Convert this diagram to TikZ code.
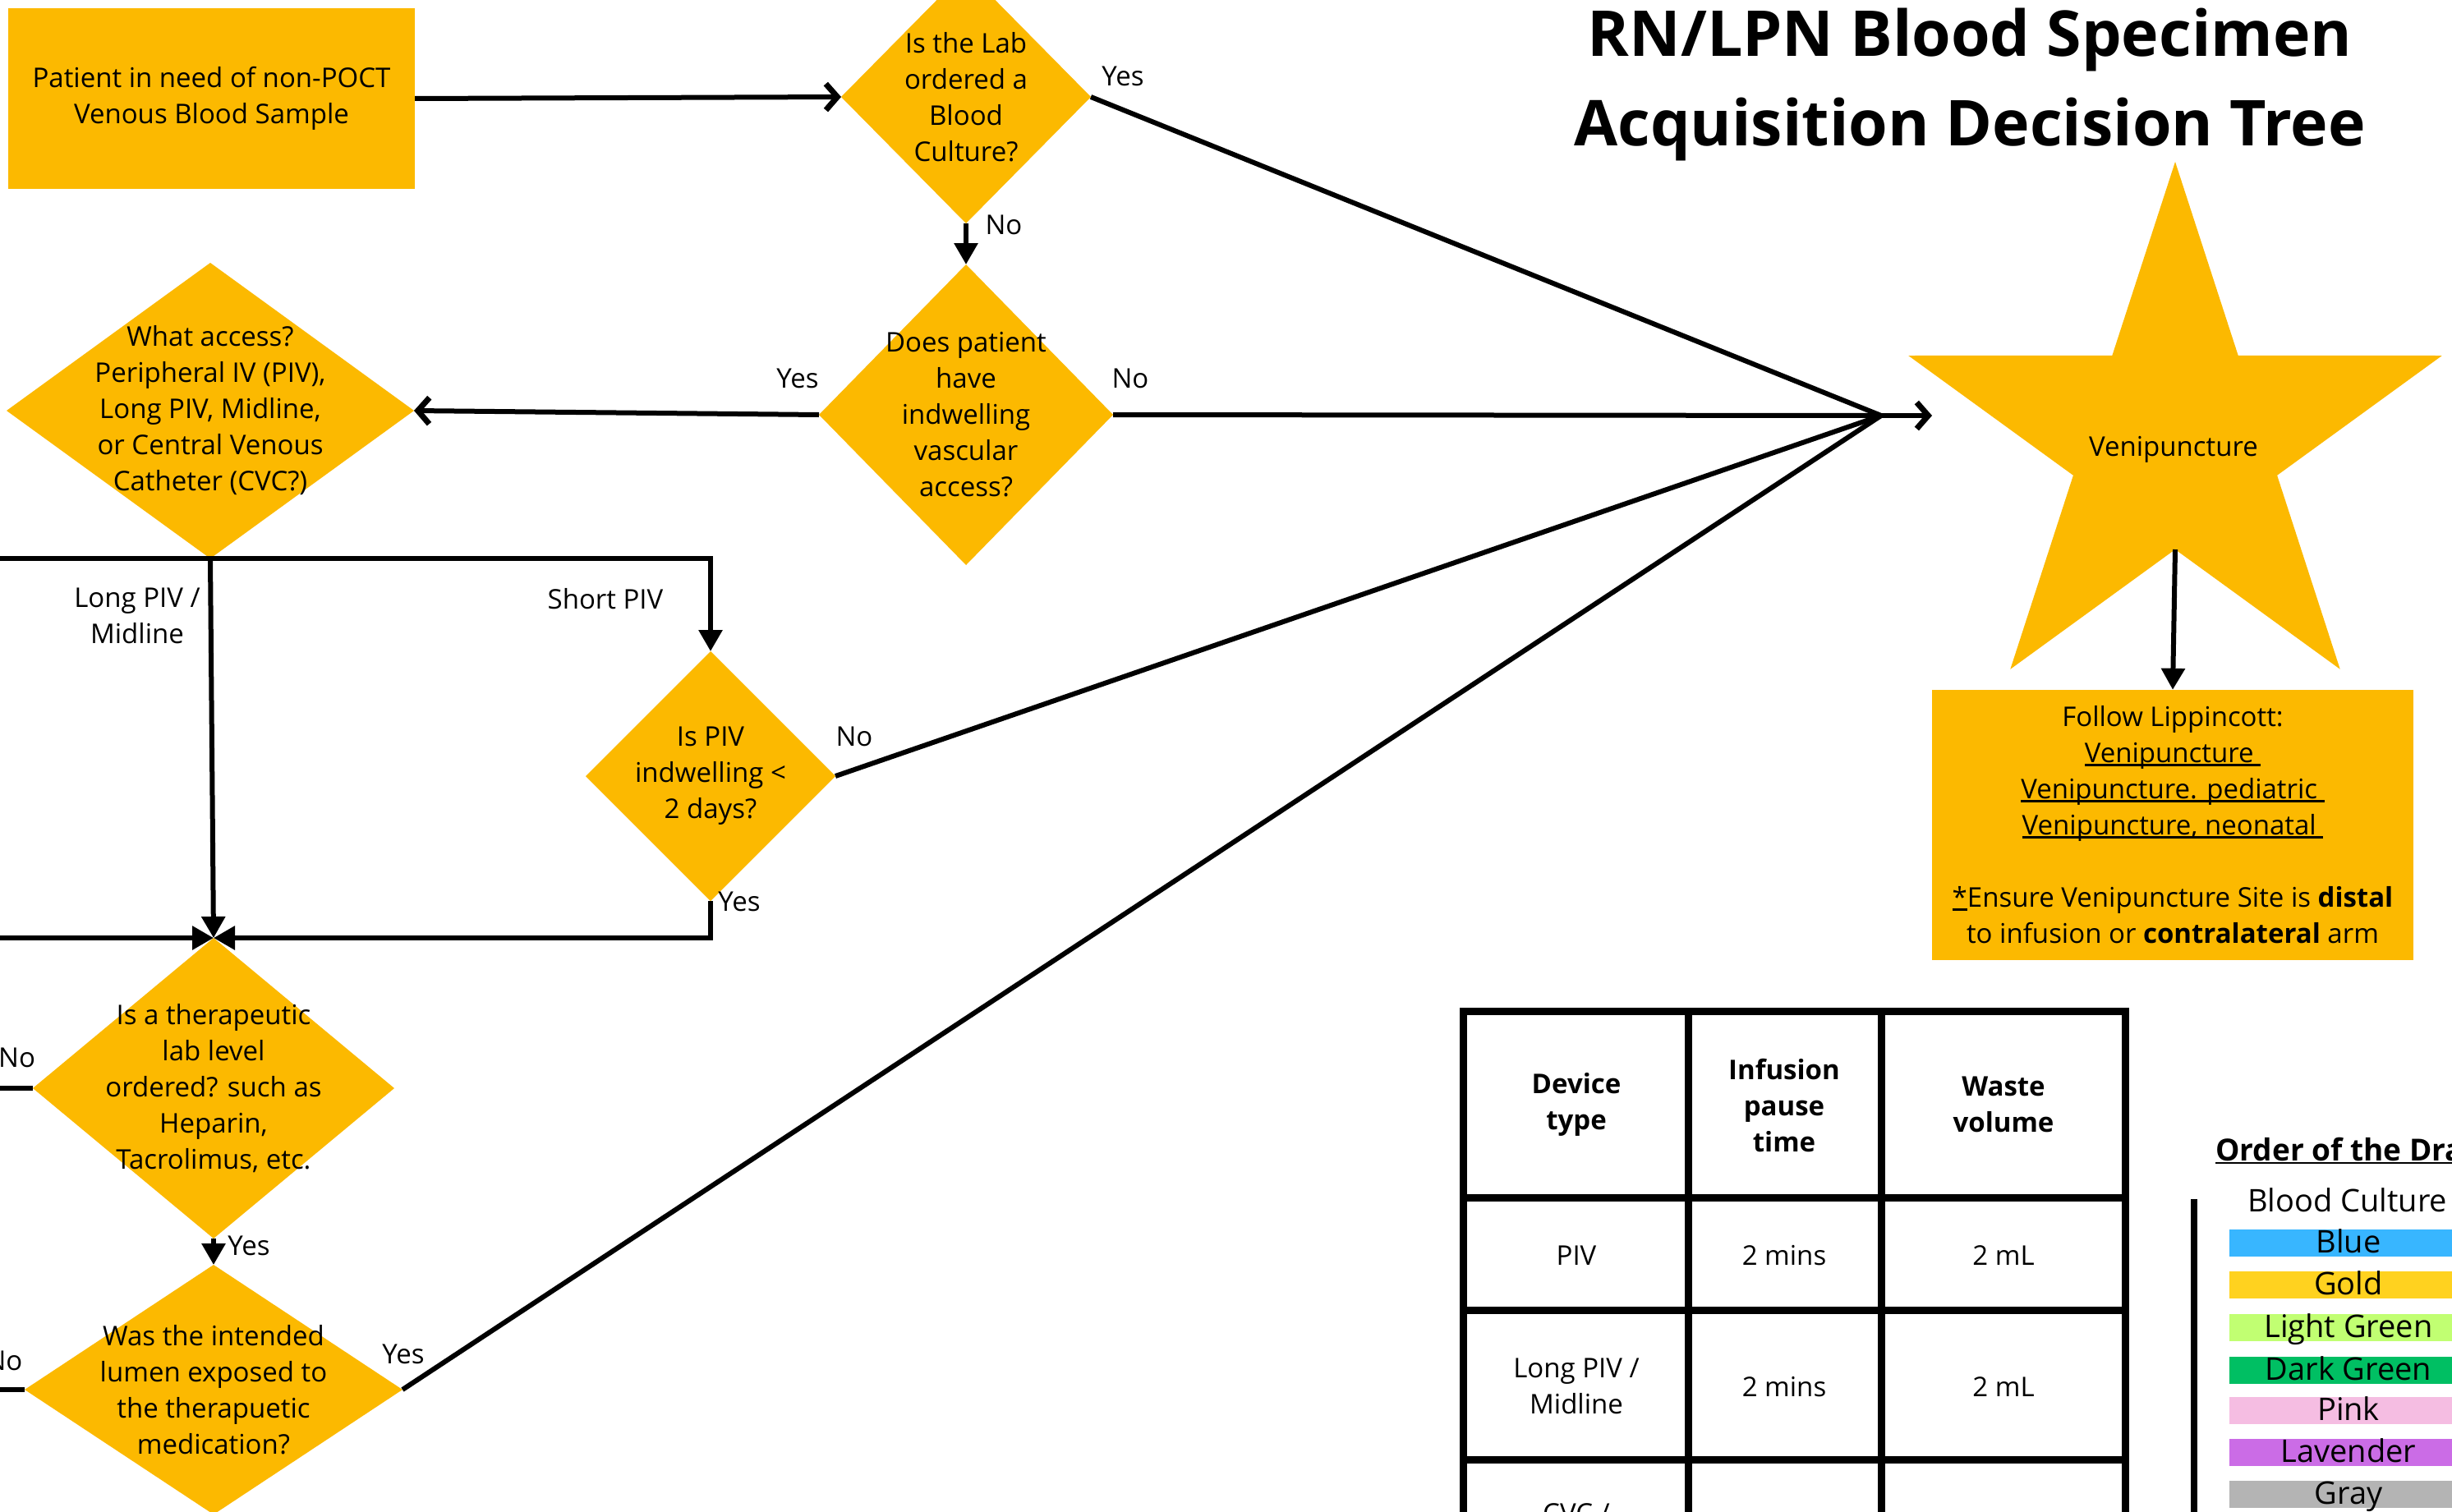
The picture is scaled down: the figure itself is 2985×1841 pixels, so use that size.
\documentclass[tikz,border=0pt]{standalone}
\usepackage{fontspec}
\setmainfont{Open Sans}
\usetikzlibrary{arrows.meta}
\definecolor{gold}{HTML}{FCB900}
\definecolor{cblue}{HTML}{38B6FF}
\definecolor{cgold}{HTML}{FFD21F}
\definecolor{clgreen}{HTML}{C1FF72}
\definecolor{cdgreen}{HTML}{00BF63}
\definecolor{cpink}{HTML}{F5BDE2}
\definecolor{clav}{HTML}{CB6CE6}
\definecolor{cgray}{HTML}{B4B4B4}
\newcommand\myul[1]{\setbox0\hbox{#1}\rlap{\rule[-4pt]{\wd0}{2.5pt}}\box0}
\newcommand\mydiamond[6]{%
  \fill[gold] (#2-#4,#3) -- (#2,#3-#5) -- (#2+#4,#3) -- (#2,#3+#5) -- cycle;
  \coordinate (#1-l) at (#2-#4,#3);
  \coordinate (#1-r) at (#2+#4,#3);
  \coordinate (#1-t) at (#2,#3-#5);
  \coordinate (#1-b) at (#2,#3+#5);
  \node[txt] (#1) at (#2,#3) {#6};
}
\tikzset{
  txt/.style={align=center, font=\fontsize{33}{44}\selectfont, inner sep=0pt},
  lbl/.style={font=\fontsize{33}{44}\selectfont, inner sep=0pt},
  conn/.style={line width=6pt},
  tri/.style={-{Triangle[length=26pt,width=28pt]}},
  barb/.style={-{Straight Barb[length=14pt,width=32pt,line width=7pt]}},
  tbl/.style={line width=9pt},
  thd/.style={align=center, font=\fontsize{33}{44}\selectfont\bfseries, inner sep=0pt},
  bar/.style={anchor=base, font=\fontsize{38}{40}\selectfont, inner sep=0pt},
}
\begin{document}
\begin{tikzpicture}[x=1pt,y=-1pt]
\useasboundingbox (0,0) rectangle (2985,1841);
\fill[white] (0,0) rectangle (2985,1841);

% title
\node[anchor=base, font=\fontsize{77}{90}\selectfont\bfseries, inner sep=0pt] (title1) at (2398,69) {RN/LPN Blood Specimen};
\node[anchor=base, font=\fontsize{77}{90}\selectfont\bfseries, inner sep=0pt] (title2) at (2398,178) {Acquisition Decision Tree};

% start box
\node[fill=gold, minimum width=495pt, minimum height=220pt, inner sep=0pt, txt] (start) at (257.5,120) {Patient in need of non-POCT\\Venous Blood Sample};

% diamonds
\mydiamond{d1}{1176}{118}{152}{154}{Is the Lab\\ordered a\\Blood\\Culture?}
\mydiamond{d2}{1176}{505}{179}{183}{Does patient\\have\\indwelling\\vascular\\access?}
\mydiamond{d3}{256}{500}{248}{180}{What access?\\Peripheral IV (PIV),\\Long PIV, Midline,\\or Central Venous\\Catheter (CVC?)}
\mydiamond{d4}{865}{945}{152}{152}{Is PIV\\indwelling <\\2 days?}
\mydiamond{d5}{260}{1325}{220}{183}{Is a therapeutic\\lab level\\ordered? such as\\Heparin,\\Tacrolimus, etc.}
\mydiamond{d6}{260}{1692}{230}{152}{Was the intended\\lumen exposed to\\the therapuetic\\medication?}

% star
\fill[gold] (2648,197) -- (2724.7,432.9) -- (2972.8,433) -- (2772.1,578.8) -- (2848.7,814.8)
  -- (2648,669) -- (2447.3,814.8) -- (2523.9,578.8) -- (2323.2,433) -- (2571.3,432.9) -- cycle;
\node[lbl] (veni) at (2646,547) {Venipuncture};
\coordinate (starbot) at (2648,669);

% follow box
\node[fill=gold, minimum width=586pt, minimum height=329pt, inner sep=0pt, txt] (follow) at (2645,1004.5)
 {Follow Lippincott:\\\myul{Venipuncture\ }\\\myul{Venipuncture. pediatric\ }\\\myul{Venipuncture, neonatal\ }\\[44pt]
  \myul{*}Ensure Venipuncture Site is \textbf{distal}\\to infusion or \textbf{contralateral} arm};

% coordinates
\coordinate (conv) at (2290,506);
\coordinate (convtip) at (2352,506);
\coordinate (offA) at (-10,681);
\coordinate (offB) at (-10,1142);
\coordinate (offC) at (-10,1325);
\coordinate (offD) at (-10,1692);

% connectors
\draw[conn, barb] (start.east) -- (d1-l);
\draw[conn, tri] (d1-b) -- (d2-t);
\draw[conn] (d1-r) -- (conv);
\draw[conn] (d2-r) -- (conv);
\draw[conn, barb] (conv) -- (convtip);
\draw[conn, barb] (d2-l) -- (d3-r);
\draw[conn] (d3-b) -- (offA |- d3-b);
\draw[conn, tri] (d3-b) -| (d4-t);
\draw[conn, tri] (d3-b) -- (d5-t);
\draw[conn, tri] (d4-b) |- (d5-t);
\draw[conn, tri] (offB) -- (d5-t);
\draw[conn] (d4-r) -- (conv);
\draw[conn] (d5-l) -- (offC);
\draw[conn, tri] (d5-b) -- (d6-t);
\draw[conn] (d6-r) -- (conv);
\draw[conn] (d6-l) -- (offD);
\draw[conn, tri] (starbot) -- (follow.north);

% labels
\node[lbl] (l1) at (1367,93) {Yes};
\node[lbl] (l2) at (1222,274) {No};
\node[lbl] (l3) at (971,461) {Yes};
\node[lbl] (l4) at (1376,461) {No};
\node[txt] (l5) at (167,750) {Long PIV /\\Midline};
\node[lbl] (l6) at (737,729) {Short PIV};
\node[lbl] (l7) at (1040,897) {No};
\node[lbl] (l8) at (900,1098) {Yes};
\node[lbl, anchor=west] (l9) at (-2,1288) {No};
\node[lbl] (l10) at (303,1517) {Yes};
\node[lbl] (l11) at (491,1649) {Yes};
\node[lbl] (l12) at (5,1657) {No};

% table
\draw[tbl] (1781,1900) -- (1781,1231) -- (2587,1231) -- (2587,1900);
\draw[tbl] (1781,1458) -- (2587,1458);
\draw[tbl] (1781,1595) -- (2587,1595);
\draw[tbl] (1781,1777) -- (2587,1777);
\draw[tbl] (2055,1231) -- (2055,1900);
\draw[tbl] (2290,1231) -- (2290,1900);
\node[thd] (h1) at (1919,1345) {Device\\type};
\node[thd] (h2) at (2172,1346) {Infusion\\pause\\time};
\node[thd] (h3) at (2439,1345) {Waste\\volume};
\node[txt] (r11) at (1919,1529) {PIV};
\node[txt] (r12) at (2172,1529) {2 mins};
\node[txt] (r13) at (2439,1529) {2 mL};
\node[txt] (r21) at (1919,1688) {Long PIV /\\Midline};
\node[txt] (r22) at (2172,1689) {2 mins};
\node[txt] (r23) at (2439,1689) {2 mL};
\node[lbl, anchor=north] (r31) at (1919,1830) {CVC /};

% legend
\node[anchor=base west, font=\fontsize{37}{40}\selectfont\bfseries, inner sep=0pt] (ordt) at (2697,1413) {\myul{Order of the Draw}};
\draw[line width=8pt] (2671,1460) -- (2671,1860);
\node[anchor=base west, font=\fontsize{38}{40}\selectfont, inner sep=0pt] (bc) at (2736,1475) {Blood Culture};
\fill[cblue]   (2714,1497) rectangle (3010,1530);
\fill[cgold]   (2714,1548) rectangle (3010,1581);
\fill[clgreen] (2714,1600) rectangle (3010,1633);
\fill[cdgreen] (2714,1652) rectangle (3010,1685);
\fill[cpink]   (2714,1701) rectangle (3010,1734);
\fill[clav]    (2714,1752) rectangle (3010,1785);
\fill[cgray]   (2714,1803) rectangle (3010,1836);
\node[bar] (b1) at (2859,1525) {Blue};
\node[bar] (b2) at (2859,1576) {Gold};
\node[bar] (b3) at (2859,1628) {Light Green};
\node[bar] (b4) at (2859,1680) {Dark Green};
\node[bar] (b5) at (2859,1729) {Pink};
\node[bar] (b6) at (2859,1780) {Lavender};
\node[bar] (b7) at (2859,1831) {Gray};
\end{tikzpicture}
\end{document}
